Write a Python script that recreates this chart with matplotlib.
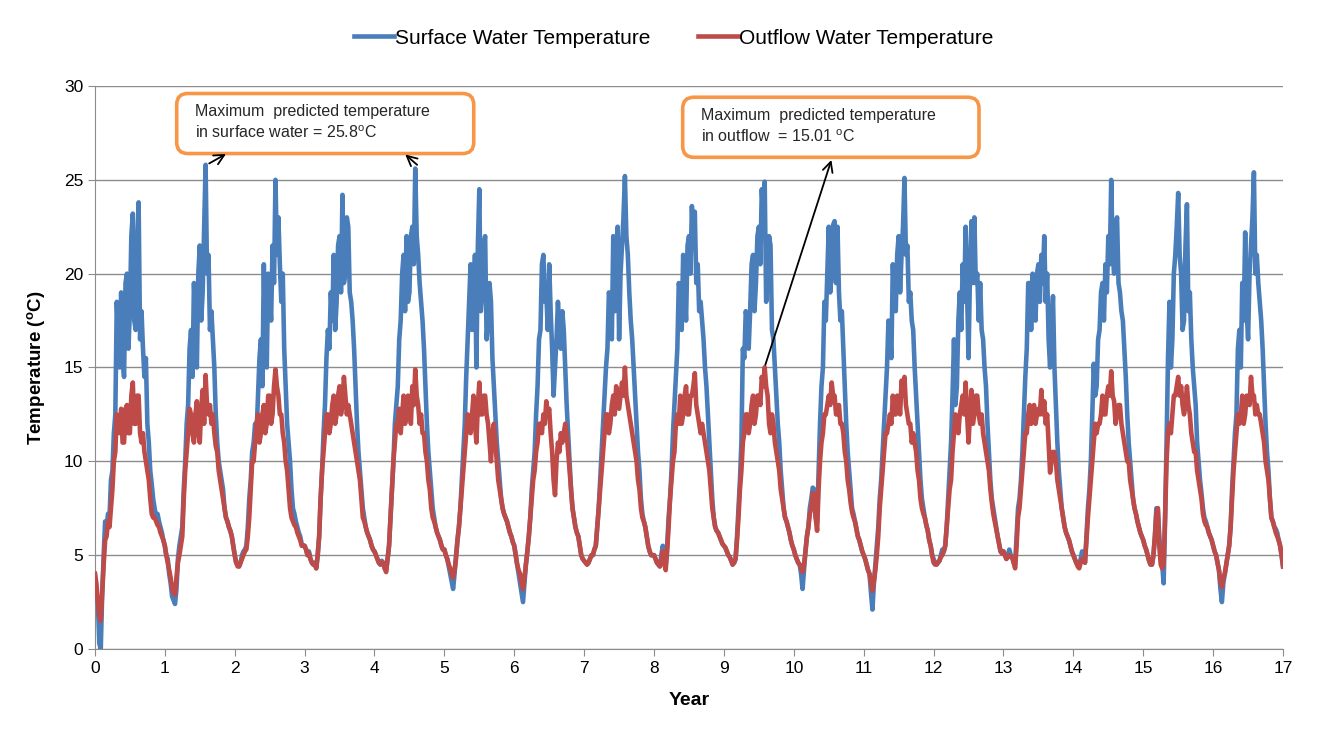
import matplotlib
matplotlib.use("Agg")
import matplotlib.pyplot as plt
from matplotlib.patches import FancyBboxPatch
import numpy as np

plt.rcParams["font.family"] = ["Liberation Sans", "DejaVu Sans"]
plt.rcParams["mathtext.fontset"] = "custom"
plt.rcParams["mathtext.rm"] = "Liberation Sans"
plt.rcParams["mathtext.bf"] = "Liberation Sans:bold"

# one value roughly every week (48 per year), degC
STEPS_PER_YEAR = 48

surface_by_year = [
    [4.0, 3.0, 2.5, 0.3, 0.0, 3.0, 5.0, 6.8, 6.5, 7.2, 7.0, 9.0, 9.5, 11.5, 12.5, 18.5,
     16.5, 15.0, 19.0, 15.5, 14.5, 19.5, 20.0, 16.0, 18.0, 22.0, 23.2, 17.5, 17.0, 21.5,
     23.8, 16.5, 18.0, 16.0, 14.5, 15.5, 12.0, 11.0, 9.5, 8.8, 8.0, 7.5, 7.0, 7.2, 6.8,
     6.5, 6.2, 5.8],
    [5.5, 5.0, 4.8, 4.0, 3.5, 2.8, 2.6, 2.4, 3.2, 4.8, 5.5, 6.0, 6.5, 8.5, 10.0, 12.0,
     13.0, 16.0, 17.0, 14.5, 19.5, 17.5, 15.0, 20.0, 21.5, 17.5, 19.0, 22.5, 25.8, 20.0,
     21.0, 17.0, 18.0, 16.5, 15.0, 12.5, 11.0, 10.0, 9.5, 9.0, 8.5, 7.5, 7.0, 6.8, 6.5,
     6.3, 6.0, 5.5],
    [5.0, 4.6, 4.5, 4.4, 4.6, 5.0, 5.2, 5.3, 5.5, 6.5, 8.0, 9.0, 10.5, 11.0, 12.0, 11.5,
     13.5, 15.5, 16.5, 14.0, 20.5, 16.0, 15.0, 20.0, 19.0, 17.5, 21.5, 19.5, 25.0, 21.0,
     23.0, 20.5, 18.5, 20.0, 16.0, 14.0, 12.0, 11.0, 10.0, 8.5, 7.5, 7.2, 6.8, 6.5, 6.2,
     6.0, 5.6, 5.5],
    [5.5, 5.3, 5.0, 5.2, 4.8, 4.6, 4.5, 4.6, 4.3, 5.0, 6.0, 8.0, 9.5, 11.5, 13.0, 15.5,
     17.0, 16.0, 19.0, 17.5, 21.0, 17.0, 18.5, 21.5, 22.0, 19.0, 24.2, 19.5, 20.0, 23.0,
     22.5, 19.0, 18.5, 17.5, 16.0, 14.0, 12.0, 10.5, 9.5, 8.5, 7.5, 7.0, 6.5, 6.2, 6.0,
     5.8, 5.5, 5.3],
    [5.2, 5.0, 4.8, 4.6, 4.5, 4.7, 4.6, 4.3, 4.2, 4.8, 5.5, 7.0, 8.5, 10.0, 12.0, 13.0,
     14.0, 16.5, 17.5, 20.0, 21.0, 18.0, 22.0, 18.5, 19.0, 22.0, 22.5, 20.5, 25.6, 22.0,
     21.0, 19.5, 18.5, 17.5, 16.0, 14.0, 12.0, 10.5, 9.5, 8.5, 7.5, 7.0, 6.5, 6.2, 6.0,
     5.8, 5.5, 5.3],
    [5.3, 5.0, 4.8, 4.4, 4.0, 3.6, 3.2, 4.0, 5.0, 5.8, 6.5, 7.5, 9.0, 10.5, 12.0, 14.5,
     16.5, 18.5, 20.5, 17.0, 18.0, 21.0, 15.0, 21.5, 24.5, 18.0, 19.0, 21.5, 22.0, 16.5,
     17.5, 19.5, 18.5, 15.5, 14.0, 12.5, 11.0, 10.0, 9.0, 8.0, 7.5, 7.2, 7.0, 6.8, 6.5,
     6.2, 6.0, 5.7],
    [5.5, 5.0, 4.5, 4.0, 3.5, 3.0, 2.5, 3.5, 4.5, 5.2, 6.0, 7.0, 8.5, 9.5, 10.5, 12.5,
     14.0, 16.5, 17.0, 20.5, 21.0, 18.5, 19.0, 17.0, 20.5, 18.0, 16.0, 13.5, 15.0, 16.5,
     18.5, 17.0, 16.0, 18.0, 17.0, 15.0, 13.0, 11.5, 10.0, 8.5, 7.5, 7.0, 6.5, 6.2, 6.0,
     5.5, 5.0, 4.8],
    [4.7, 4.6, 4.5, 4.6, 4.8, 5.0, 5.0, 5.3, 5.5, 6.5, 7.5, 9.0, 10.5, 12.0, 13.5, 15.0,
     16.0, 19.0, 18.5, 16.5, 22.0, 18.0, 20.0, 22.5, 16.5, 20.0, 21.5, 23.0, 25.2, 22.0,
     21.0, 19.0, 17.5, 16.5, 15.0, 13.5, 12.0, 10.5, 9.5, 8.0, 7.2, 6.8, 6.5, 6.0, 5.5,
     5.2, 5.0, 5.0],
    [5.0, 4.8, 4.6, 4.5, 4.4, 5.0, 5.5, 4.8, 4.5, 5.5, 7.0, 8.0, 9.5, 11.5, 13.0, 14.5,
     16.0, 19.5, 19.0, 17.0, 21.0, 19.0, 17.5, 21.5, 22.0, 20.0, 23.6, 21.5, 23.3, 19.5,
     20.5, 18.0, 18.5, 17.5, 16.5, 15.0, 14.0, 12.5, 11.0, 9.5, 8.0, 7.0, 6.5, 6.3, 6.2,
     6.0, 5.8, 5.6],
    [5.5, 5.4, 5.2, 5.0, 4.9, 4.7, 4.5, 4.6, 4.8, 6.0, 7.5, 9.0, 11.0, 16.0, 15.5, 18.0,
     17.5, 16.0, 18.0, 20.5, 21.0, 18.0, 19.5, 22.0, 22.5, 20.5, 24.5, 23.0, 24.9, 18.5,
     19.5, 22.0, 21.5, 17.0, 16.5, 15.0, 13.5, 12.0, 11.0, 9.5, 8.5, 7.5, 7.0, 6.8, 6.5,
     6.2, 5.8, 5.5],
    [5.3, 5.0, 4.8, 4.6, 4.5, 4.0, 3.2, 4.2, 5.2, 6.0, 6.5, 7.5, 8.0, 8.6, 8.5, 7.0,
     6.8, 9.5, 12.0, 14.0, 15.0, 18.5, 17.5, 20.0, 22.5, 19.0, 20.0, 22.6, 22.8, 19.5,
     22.5, 19.0, 17.5, 18.0, 16.0, 14.0, 12.0, 10.5, 9.5, 8.5, 7.5, 7.2, 6.8, 6.4, 6.0,
     5.8, 5.5, 5.2],
    [5.0, 4.8, 4.5, 4.2, 4.0, 3.0, 2.1, 3.5, 4.5, 5.5, 6.5, 8.0, 9.0, 10.5, 12.0, 13.5,
     15.0, 17.5, 17.0, 15.5, 20.5, 18.5, 18.0, 21.0, 22.0, 19.0, 21.0, 22.5, 25.1, 21.0,
     21.5, 18.5, 19.0, 17.5, 17.0, 15.0, 13.5, 12.0, 10.5, 9.0, 8.0, 7.5, 7.0, 6.6, 6.3,
     5.8, 5.5, 5.0],
    [4.8, 4.6, 4.5, 4.6, 4.7, 5.0, 5.3, 5.2, 5.5, 6.5, 8.0, 9.5, 11.0, 13.5, 16.5, 13.0,
     14.0, 17.5, 19.0, 17.0, 20.5, 18.5, 22.5, 19.0, 15.5, 20.0, 22.8, 19.5, 23.0, 19.5,
     20.0, 17.5, 19.5, 17.0, 16.5, 15.0, 14.0, 12.0, 10.5, 9.0, 8.0, 7.5, 7.0, 6.5, 6.0,
     5.6, 5.2, 5.1],
    [5.2, 5.0, 4.8, 5.0, 5.3, 5.0, 4.9, 4.6, 4.5, 6.0, 7.5, 8.0, 9.0, 10.5, 12.5, 14.5,
     16.0, 19.5, 19.5, 17.0, 20.0, 18.0, 17.5, 20.0, 20.5, 18.5, 21.0, 19.5, 22.0, 18.5,
     20.0, 16.5, 15.0, 17.0, 18.8, 15.0, 13.0, 11.0, 9.5, 8.5, 7.5, 7.0, 6.5, 6.2, 6.0,
     5.8, 5.5, 5.2],
    [5.0, 4.8, 4.6, 4.5, 4.4, 4.8, 5.2, 4.8, 4.6, 6.0, 7.5, 8.5, 10.0, 12.5, 15.2, 13.5,
     14.0, 16.5, 17.0, 19.0, 19.5, 17.5, 20.5, 19.0, 22.0, 20.5, 25.0, 21.0, 20.0, 22.5,
     23.0, 19.5, 19.0, 18.0, 17.5, 16.0, 14.5, 12.5, 11.0, 10.0, 9.0, 8.0, 7.5, 7.2, 6.8,
     6.5, 6.2, 6.0],
    [5.8, 5.5, 5.3, 5.0, 4.7, 4.5, 4.5, 5.0, 6.0, 7.5, 7.5, 6.0, 5.0, 4.5, 3.5, 7.0,
     11.0, 15.5, 18.5, 15.0, 16.5, 20.0, 21.0, 22.5, 24.3, 21.0, 20.0, 17.0, 17.5, 21.5,
     23.7, 18.0, 19.0, 16.5, 15.0, 14.0, 13.0, 11.0, 10.0, 9.0, 8.3, 7.5, 7.0, 6.8, 6.5,
     6.2, 6.0, 5.8],
    [5.5, 5.2, 5.0, 4.6, 4.2, 3.2, 2.5, 3.5, 4.0, 4.5, 5.0, 5.5, 6.5, 8.5, 10.0, 11.5,
     12.5, 16.0, 17.0, 15.0, 19.5, 17.5, 22.2, 18.0, 16.5, 20.0, 21.5, 23.0, 25.4, 20.0,
     21.0, 19.5, 18.5, 17.5, 16.0, 14.0, 12.0, 10.5, 9.5, 8.0, 7.0, 6.8, 6.5, 6.4, 6.2,
     5.8, 5.5, 5.0],
]

outflow_by_year = [
    [4.0, 3.5, 2.5, 1.8, 1.5, 3.0, 4.5, 5.8, 6.0, 6.8, 6.5, 7.5, 8.5, 10.0, 10.5, 12.5,
     12.0, 11.5, 12.8, 11.0, 11.0, 12.8, 13.0, 11.5, 11.5, 13.5, 14.2, 12.0, 12.0, 13.5,
     13.5, 11.5, 11.0, 11.5, 10.5, 10.0, 9.5, 9.0, 8.0, 7.2, 7.0, 7.0, 6.8, 6.6, 6.5,
     6.2, 6.0, 5.8],
    [5.5, 5.0, 4.6, 4.2, 3.8, 3.2, 3.0, 2.9, 3.8, 4.6, 5.0, 5.5, 6.0, 8.0, 9.5, 10.5,
     11.5, 12.8, 12.5, 11.5, 11.0, 12.5, 13.2, 11.5, 11.0, 12.8, 13.8, 12.0, 14.6, 13.0,
     12.5, 13.0, 12.0, 12.5, 11.5, 10.8, 10.5, 9.5, 9.0, 8.5, 8.0, 7.5, 7.0, 6.8, 6.5,
     6.3, 6.0, 5.5],
    [5.0, 4.6, 4.4, 4.4, 4.6, 4.8, 5.0, 5.2, 5.3, 6.0, 7.0, 8.5, 10.0, 10.0, 11.0, 12.0,
     12.5, 11.0, 11.5, 12.5, 13.0, 11.5, 12.0, 13.5, 13.5, 12.0, 12.5, 14.0, 14.9, 14.0,
     13.5, 12.5, 12.5, 11.5, 11.0, 10.0, 9.5, 8.5, 7.5, 7.0, 6.8, 6.6, 6.5, 6.2, 6.0,
     5.8, 5.5, 5.5],
    [5.5, 5.3, 5.0, 5.1, 4.8, 4.6, 4.5, 4.5, 4.3, 5.0, 6.0, 8.0, 9.5, 10.5, 11.5, 12.5,
     12.5, 11.5, 12.0, 13.0, 13.5, 12.0, 12.5, 13.5, 14.0, 12.5, 13.0, 14.5, 13.5, 12.5,
     13.0, 12.5, 12.0, 11.5, 11.0, 10.5, 10.0, 9.5, 9.0, 8.0, 7.0, 6.8, 6.5, 6.2, 6.0,
     5.8, 5.5, 5.3],
    [5.2, 5.0, 4.8, 4.6, 4.5, 4.6, 4.6, 4.3, 4.1, 4.8, 5.5, 7.0, 8.5, 10.0, 11.0, 12.0,
     12.0, 12.8, 11.5, 12.5, 13.5, 12.0, 12.5, 13.5, 13.0, 12.0, 14.0, 13.0, 14.9, 13.5,
     13.0, 12.0, 12.5, 11.5, 11.5, 10.5, 10.0, 9.0, 8.5, 7.5, 7.0, 6.8, 6.5, 6.2, 6.0,
     5.8, 5.5, 5.3],
    [5.3, 5.0, 4.8, 4.5, 4.3, 4.0, 3.8, 4.2, 4.8, 5.8, 6.5, 7.5, 8.5, 9.5, 10.5, 11.5,
     12.5, 12.0, 11.5, 12.5, 13.5, 12.0, 11.0, 13.0, 14.2, 12.5, 12.5, 13.5, 13.5, 12.5,
     12.0, 11.0, 10.0, 11.5, 12.0, 11.0, 10.0, 9.0, 8.5, 8.0, 7.5, 7.2, 7.0, 6.8, 6.5,
     6.2, 6.0, 5.7],
    [5.5, 5.0, 4.5, 4.2, 4.0, 3.5, 3.2, 3.8, 4.5, 5.2, 6.0, 7.0, 8.0, 9.0, 9.5, 10.5,
     11.0, 12.0, 12.0, 11.5, 12.5, 12.0, 13.2, 12.5, 12.8, 11.5, 10.5, 9.0, 8.2, 10.0,
     11.0, 10.5, 11.5, 11.0, 11.5, 12.0, 11.5, 10.5, 9.5, 8.5, 7.5, 7.0, 6.5, 6.2, 6.0,
     5.5, 5.0, 4.8],
    [4.7, 4.6, 4.5, 4.6, 4.8, 5.0, 5.0, 5.3, 5.5, 6.5, 7.5, 8.5, 9.5, 10.5, 11.5, 12.5,
     12.5, 11.5, 12.0, 13.0, 13.5, 12.5, 14.0, 13.0, 12.8, 13.5, 14.2, 13.5, 15.0, 13.5,
     13.0, 12.5, 12.0, 11.5, 11.0, 10.5, 10.0, 9.0, 8.5, 7.5, 7.0, 6.8, 6.5, 6.0, 5.5,
     5.2, 5.0, 5.0],
    [5.0, 4.8, 4.6, 4.5, 4.4, 4.8, 5.2, 4.6, 4.2, 5.2, 6.5, 8.0, 9.0, 10.0, 10.5, 12.0,
     12.5, 12.0, 13.5, 12.0, 12.5, 13.5, 14.0, 12.5, 12.5, 13.5, 13.5, 14.0, 14.7, 13.0,
     12.5, 12.0, 11.5, 12.0, 11.5, 11.0, 10.5, 10.0, 9.5, 8.5, 7.5, 7.0, 6.5, 6.3, 6.2,
     6.0, 5.8, 5.6],
    [5.5, 5.4, 5.2, 5.0, 4.9, 4.7, 4.5, 4.6, 4.8, 5.8, 7.0, 8.5, 9.5, 11.0, 11.5, 12.5,
     12.5, 11.5, 12.0, 13.0, 13.5, 12.0, 12.5, 13.5, 13.5, 13.0, 14.5, 14.0, 15.01, 14.0,
     13.5, 12.0, 11.5, 12.5, 12.0, 11.0, 10.5, 10.0, 9.5, 8.5, 8.0, 7.5, 7.0, 6.8, 6.5,
     6.2, 5.8, 5.5],
    [5.3, 5.0, 4.8, 4.6, 4.5, 4.3, 4.1, 4.5, 5.2, 6.0, 6.5, 7.2, 7.5, 8.3, 8.3, 7.0,
     6.3, 8.5, 10.0, 11.0, 11.5, 12.5, 12.5, 13.0, 13.5, 13.0, 14.2, 13.5, 13.5, 12.5,
     12.5, 13.0, 12.0, 12.0, 11.5, 10.5, 10.0, 9.0, 8.5, 7.8, 7.3, 7.0, 6.8, 6.4, 6.0,
     5.8, 5.5, 5.2],
    [5.0, 4.8, 4.5, 4.2, 4.0, 3.5, 3.1, 3.6, 4.2, 5.0, 6.0, 7.5, 8.5, 9.5, 10.5, 11.5,
     11.5, 12.0, 12.5, 12.0, 13.5, 12.5, 12.5, 13.5, 13.3, 12.5, 14.3, 13.5, 14.5, 13.0,
     12.5, 12.0, 12.0, 11.0, 11.5, 11.0, 10.5, 9.5, 9.0, 8.0, 7.5, 7.2, 7.0, 6.6, 6.3,
     5.8, 5.5, 5.0],
    [4.6, 4.5, 4.5, 4.6, 4.7, 4.9, 5.0, 5.2, 5.5, 6.5, 7.5, 8.5, 9.0, 10.5, 11.5, 12.5,
     12.0, 11.5, 12.5, 13.0, 13.5, 12.5, 14.2, 12.5, 11.0, 12.5, 13.8, 12.0, 12.5, 13.5,
     13.5, 12.5, 12.0, 12.5, 11.5, 11.0, 10.5, 10.0, 9.5, 8.5, 7.8, 7.2, 6.8, 6.4, 6.0,
     5.6, 5.2, 5.1],
    [5.2, 5.0, 4.8, 4.9, 5.0, 4.9, 4.9, 4.6, 4.3, 5.5, 7.0, 7.5, 8.5, 9.5, 10.5, 11.5,
     11.5, 12.5, 13.0, 12.0, 12.5, 13.0, 12.0, 12.5, 12.8, 12.5, 13.8, 12.5, 13.2, 12.0,
     12.5, 11.0, 9.4, 10.0, 10.5, 10.5, 10.0, 9.0, 8.5, 8.0, 7.5, 7.0, 6.5, 6.2, 6.0,
     5.8, 5.5, 5.2],
    [5.0, 4.8, 4.6, 4.4, 4.3, 4.6, 4.8, 4.7, 4.6, 5.8, 7.0, 8.0, 9.0, 10.0, 11.0, 12.0,
     11.5, 12.0, 12.0, 12.5, 13.5, 12.5, 12.5, 13.5, 14.0, 13.5, 14.8, 13.5, 13.2, 12.0,
     12.5, 13.0, 13.0, 12.0, 11.5, 11.0, 10.5, 10.0, 10.0, 9.0, 8.5, 8.0, 7.5, 7.2, 6.8,
     6.5, 6.2, 6.0],
    [5.8, 5.5, 5.3, 5.0, 4.7, 4.5, 4.5, 5.0, 6.0, 7.2, 7.5, 5.5, 4.5, 4.3, 4.5, 7.0,
     10.0, 11.5, 12.0, 11.5, 12.5, 13.5, 13.5, 14.0, 14.5, 13.5, 14.0, 13.0, 12.5, 13.0,
     14.0, 13.0, 12.5, 11.5, 11.0, 10.5, 10.5, 9.5, 9.0, 8.5, 8.0, 7.2, 6.8, 6.6, 6.5,
     6.2, 6.0, 5.8],
    [5.5, 5.2, 5.0, 4.6, 4.2, 3.6, 3.3, 3.8, 4.0, 4.5, 5.0, 5.5, 6.5, 8.0, 9.5, 10.5,
     11.5, 12.5, 12.0, 12.5, 13.5, 12.0, 12.5, 13.5, 13.2, 13.0, 14.5, 13.5, 13.5, 12.5,
     13.0, 12.5, 12.5, 12.0, 11.5, 11.0, 10.0, 9.5, 9.0, 8.0, 7.0, 6.8, 6.5, 6.2, 6.0,
     5.8, 5.5, 5.0],
]
final_value = 4.4  # both series at the end of year 17

for yr_s, yr_o in zip(surface_by_year, outflow_by_year):
    assert len(yr_s) == STEPS_PER_YEAR and len(yr_o) == STEPS_PER_YEAR

surface = np.array([v for yr in surface_by_year for v in yr] + [final_value])
outflow = np.array([v for yr in outflow_by_year for v in yr] + [final_value])
years = np.arange(len(surface)) / STEPS_PER_YEAR

blue = "#4A7EBB"
red = "#BE4B48"
orange = "#F79646"
grid_col = "#8C8C8C"
text_col = "#262626"

fig = plt.figure(figsize=(13.39, 7.49), dpi=100)
ax = fig.add_axes([0.0709, 0.1335, 0.8873, 0.7517])

ax.plot(years, surface, color=blue, lw=3.3, label="Surface Water Temperature",
        solid_joinstyle="round", zorder=3)
ax.plot(years, outflow, color=red, lw=3.3, label="Outflow Water Temperature",
        solid_joinstyle="round", zorder=4)

ax.set_xlim(0, 17)
ax.set_ylim(0, 30)
ax.set_xticks(range(0, 18))
ax.set_yticks(range(0, 31, 5))
ax.yaxis.grid(True, color=grid_col, lw=1.0)
ax.set_axisbelow(True)
for side in ("top", "right"):
    ax.spines[side].set_visible(False)
for side in ("left", "bottom"):
    ax.spines[side].set_color(grid_col)
ax.tick_params(axis="both", colors=grid_col, labelcolor="black",
               labelsize=12.5, length=5, direction="out")

ax.set_xlabel("Year", fontsize=14, fontweight="bold", labelpad=12)
ax.set_ylabel(r"Temperature ($\mathbf{^{o}}$C)", fontsize=13.5,
              fontweight="bold", labelpad=12)

fig.legend(*ax.get_legend_handles_labels(), loc="center",
           bbox_to_anchor=(0.503, 0.949), ncol=2, frameon=False, fontsize=15,
           handlelength=1.9, handletextpad=0.05, columnspacing=2.3)


def note_box(x0, x1, y0, y1, lines, tx):
    # rounded orange callout; aspect keeps the corners circular on screen
    box = FancyBboxPatch((x0, y0), x1 - x0, y1 - y0,
                         boxstyle="round,pad=0,rounding_size=0.16",
                         mutation_aspect=3.72,
                         fc="white", ec=orange, lw=2.6, zorder=6,
                         clip_on=False)
    ax.add_patch(box)
    ax.text(tx, y1 - 0.97, lines[0], fontsize=11.5, color=text_col,
            va="center", ha="left", zorder=7)
    ax.text(tx, y1 - 2.1, lines[1], fontsize=11.5, color=text_col,
            va="center", ha="left", zorder=7)


note_box(1.17, 5.42, 26.4, 29.6,
         ["Maximum  predicted temperature",
          r"in surface water = 25.8$^{\rm o}$C"], 1.43)
note_box(8.41, 12.65, 26.2, 29.4,
         ["Maximum  predicted temperature",
          r"in outflow  = 15.01 $^{\rm o}$C"], 8.67)

arrow_kw = dict(arrowstyle="->", color="black", lw=1.3, mutation_scale=18)
ax.annotate("", xy=(1.91, 26.45), xytext=(1.60, 25.8),
            arrowprops=arrow_kw, zorder=8)
ax.annotate("", xy=(4.41, 26.45), xytext=(4.64, 25.7),
            arrowprops=arrow_kw, zorder=8)
ax.annotate("", xy=(10.55, 26.2), xytext=(9.58, 15.0),
            arrowprops=arrow_kw, zorder=8)

fig.savefig("out.png", dpi=100)
